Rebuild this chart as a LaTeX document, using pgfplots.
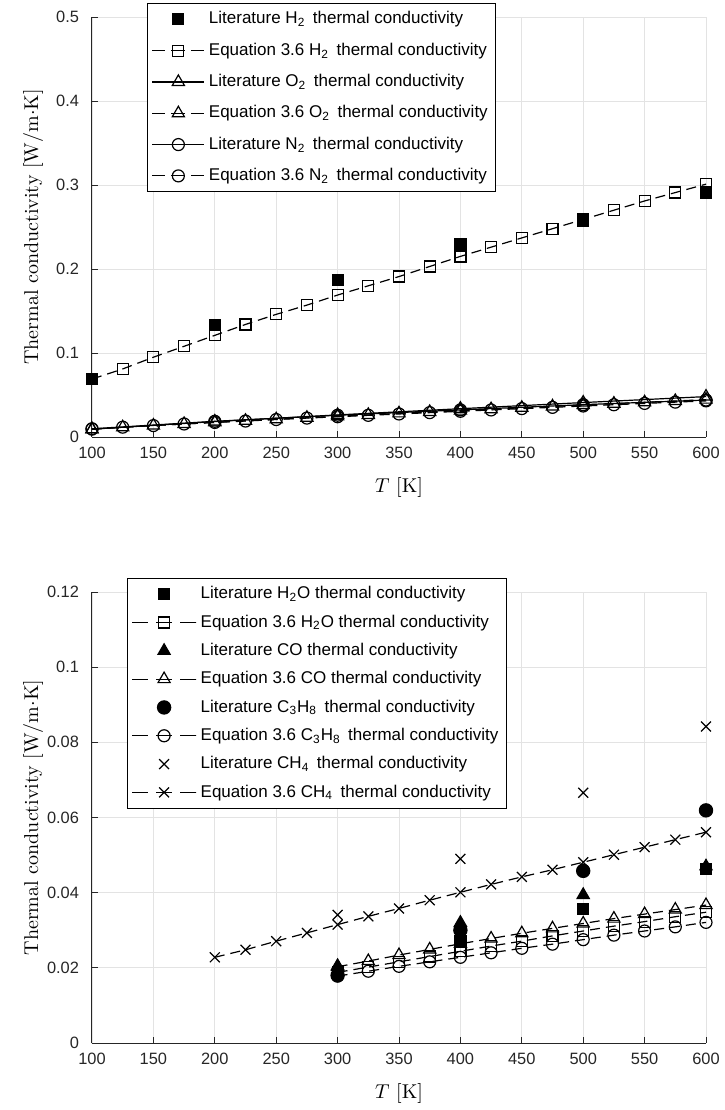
\documentclass[border=0pt]{standalone}
\usepackage{pgfplots}
\pgfplotsset{compat=1.18}
\usepackage{fontspec}
\newfontfamily\arial{Liberation Sans}
\definecolor{axgray}{gray}{0.15}
\newcommand{\sub}[1]{\textsubscript{#1}\,}
\begin{document}
\begin{tikzpicture}
\useasboundingbox (-46pt,-336.5pt) rectangle (316pt,218.5pt);
\pgfplotsset{
  myaxis/.style={
    scale only axis,
    width=307pt,
    xmin=100, xmax=600,
    xtick={100,150,...,600},
    axis x line*=bottom, axis y line*=left,
    axis line style={axgray, line width=0.5pt},
    tick align=inside,
    major tick length=3pt,
    tick style={axgray, line width=0.5pt},
    grid=major,
    grid style={gray!22, line width=0.4pt},
    tick label style={font=\arial\fontsize{8.2}{9}\selectfont, text=axgray},
    xticklabel style={yshift=-1.5pt},
    yticklabel style={xshift=-3pt},
    /pgf/number format/assume math mode=true,
    /pgf/number format/.cd, fixed, precision=2, /pgfplots/.cd,
    label style={font=\fontsize{14}{16}\selectfont},
    every axis x label/.style={at={(axis description cs:0.5,0)}, anchor=center, yshift=-25pt},
    every axis y label/.style={at={(axis description cs:-0.096,0.5)}, rotate=90, anchor=center},
    xlabel={$T$ [K]},
    ylabel={Thermal conductivity [W/m$\cdot$K]},
    legend cell align=left,
    legend style={draw=black, line width=0.5pt, fill=white,
      font=\arial\fontsize{8.5}{10}\selectfont, anchor=north west, inner sep=2pt},
    every axis plot/.append style={line width=0.6pt, black},
  },
  lit/.style={only marks},
  sol/.style={solid},
}
% ---------------- top axis ----------------
\begin{axis}[myaxis, name=top, at={(0,0)}, anchor=south west,
  height=210pt, ymin=0, ymax=0.5, ytick={0,0.1,...,0.5},
  legend image code/.code={\draw[mark repeat=2,mark phase=2,#1] plot coordinates {(0pt,0pt) (13pt,0pt) (26pt,0pt)};},
  eq/.style={dash pattern=on 5pt off 3pt,
    legend image post style={dash pattern=on 6.5pt off 3pt on 7pt off 3pt on 6.5pt off 0pt}},
  legend style={at={(0.09,1.033)}, row sep=4pt}]
\addplot[lit, mark=square*, mark size=2.75pt] coordinates {
 (100,0.069) (200,0.133) (300,0.187) (400,0.230) (500,0.257) (600,0.291)};
\addlegendentry{Literature H\sub{2} thermal conductivity}
\addplot[eq, mark=square, mark size=2.75pt, mark options={solid}] coordinates {
 (100,0.069) (125,0.081) (150,0.095) (175,0.108) (200,0.121) (225,0.134) (250,0.146)
 (275,0.157) (300,0.169) (325,0.180) (350,0.191) (375,0.203) (400,0.215) (425,0.226)
 (450,0.237) (475,0.248) (500,0.259) (525,0.270) (550,0.281) (575,0.291) (600,0.301)};
\addlegendentry{Equation 3.6 H\sub{2} thermal conductivity}
\addplot[sol, mark=triangle, mark size=3.5pt] coordinates {
 (100,0.0093) (200,0.0184) (300,0.0263) (400,0.0337) (500,0.0410) (600,0.0481)};
\addlegendentry{Literature O\sub{2} thermal conductivity}
\addplot[eq, mark=triangle, mark size=3.5pt, mark options={solid}] coordinates {
 (100,0.0091) (125,0.0115) (150,0.0136) (175,0.0155) (200,0.0174) (225,0.0193) (250,0.0211)
 (275,0.0229) (300,0.0246) (325,0.0263) (350,0.0281) (375,0.0298) (400,0.0314) (425,0.0331)
 (450,0.0348) (475,0.0364) (500,0.0381) (525,0.0397) (550,0.0413) (575,0.0429) (600,0.0445)};
\addlegendentry{Equation 3.6 O\sub{2} thermal conductivity}
\addplot[sol, mark=o, mark size=3pt] coordinates {
 (100,0.0098) (200,0.0187) (300,0.0259) (400,0.0323) (500,0.0385) (600,0.0440)};
\addlegendentry{Literature N\sub{2} thermal conductivity}
\addplot[eq, mark=o, mark size=3pt, mark options={solid}] coordinates {
 (100,0.0094) (125,0.0117) (150,0.0136) (175,0.0155) (200,0.0173) (225,0.0190) (250,0.0208)
 (275,0.0225) (300,0.0241) (325,0.0258) (350,0.0274) (375,0.0290) (400,0.0306) (425,0.0322)
 (450,0.0338) (475,0.0353) (500,0.0369) (525,0.0384) (550,0.0400) (575,0.0415) (600,0.0430)};
\addlegendentry{Equation 3.6 N\sub{2} thermal conductivity}
\end{axis}
% ---------------- bottom axis ----------------
\begin{axis}[myaxis, name=bot, at={(0,-77.5pt)}, anchor=north west,
  height=225.5pt, ymin=0, ymax=0.12, ytick={0,0.02,...,0.12},
  legend image code/.code={\draw[mark repeat=2,mark phase=2,#1] plot coordinates {(0pt,0pt) (16pt,0pt) (32pt,0pt)};},
  eq/.style={dash pattern=on 5pt off 3pt,
    legend image post style={dash pattern=on 8pt off 4pt on 8pt off 4pt on 8pt off 0pt}},
  legend style={at={(0.057,1.031)}, row sep=2.5pt}]
\addplot[lit, mark=square*, mark size=2.75pt] coordinates {
 (400,0.0270) (500,0.0357) (600,0.0464)};
\addlegendentry{Literature H\textsubscript{2}O thermal conductivity}
\addplot[eq, mark=square, mark size=2.75pt, mark options={solid}] coordinates {
 (300,0.0188) (325,0.0202) (350,0.0216) (375,0.0230) (400,0.0244) (425,0.0258) (450,0.0271)
 (475,0.0285) (500,0.0298) (525,0.0311) (550,0.0323) (575,0.0336) (600,0.0348)};
\addlegendentry{Equation 3.6 H\textsubscript{2}O thermal conductivity}
\addplot[lit, mark=triangle*, mark size=3.5pt] coordinates {
 (300,0.0205) (400,0.0320) (500,0.0394) (600,0.0470)};
\addlegendentry{Literature CO thermal conductivity}
\addplot[eq, mark=triangle, mark size=3.5pt, mark options={solid}] coordinates {
 (300,0.0203) (325,0.0218) (350,0.0234) (375,0.0249) (400,0.0264) (425,0.0278) (450,0.0292)
 (475,0.0305) (500,0.0318) (525,0.0331) (550,0.0343) (575,0.0355) (600,0.0367)};
\addlegendentry{Equation 3.6 CO thermal conductivity}
\addplot[lit, mark=*, mark size=3.3pt] coordinates {
 (300,0.0180) (400,0.0300) (500,0.0458) (600,0.0619)};
\addlegendentry{Literature C\textsubscript{3}H\sub{8} thermal conductivity}
\addplot[eq, mark=o, mark size=3pt, mark options={solid}] coordinates {
 (300,0.0178) (325,0.0191) (350,0.0204) (375,0.0216) (400,0.0228) (425,0.0240) (450,0.0252)
 (475,0.0263) (500,0.0275) (525,0.0287) (550,0.0298) (575,0.0309) (600,0.0321)};
\addlegendentry{Equation 3.6 C\textsubscript{3}H\sub{8} thermal conductivity}
\addplot[lit, mark=x, mark size=3.5pt] coordinates {
 (300,0.0341) (400,0.0490) (500,0.0666) (600,0.0842)};
\addlegendentry{Literature CH\sub{4} thermal conductivity}
\addplot[eq, mark=x, mark size=3.5pt, mark options={solid}] coordinates {
 (200,0.0228) (225,0.0248) (250,0.0271) (275,0.0293) (300,0.0315) (325,0.0337) (350,0.0358)
 (375,0.0380) (400,0.0401) (425,0.0422) (450,0.0442) (475,0.0461) (500,0.0481) (525,0.0501)
 (550,0.0521) (575,0.0541) (600,0.0561)};
\addlegendentry{Equation 3.6 CH\sub{4} thermal conductivity}
\end{axis}
\end{tikzpicture}
\end{document}
